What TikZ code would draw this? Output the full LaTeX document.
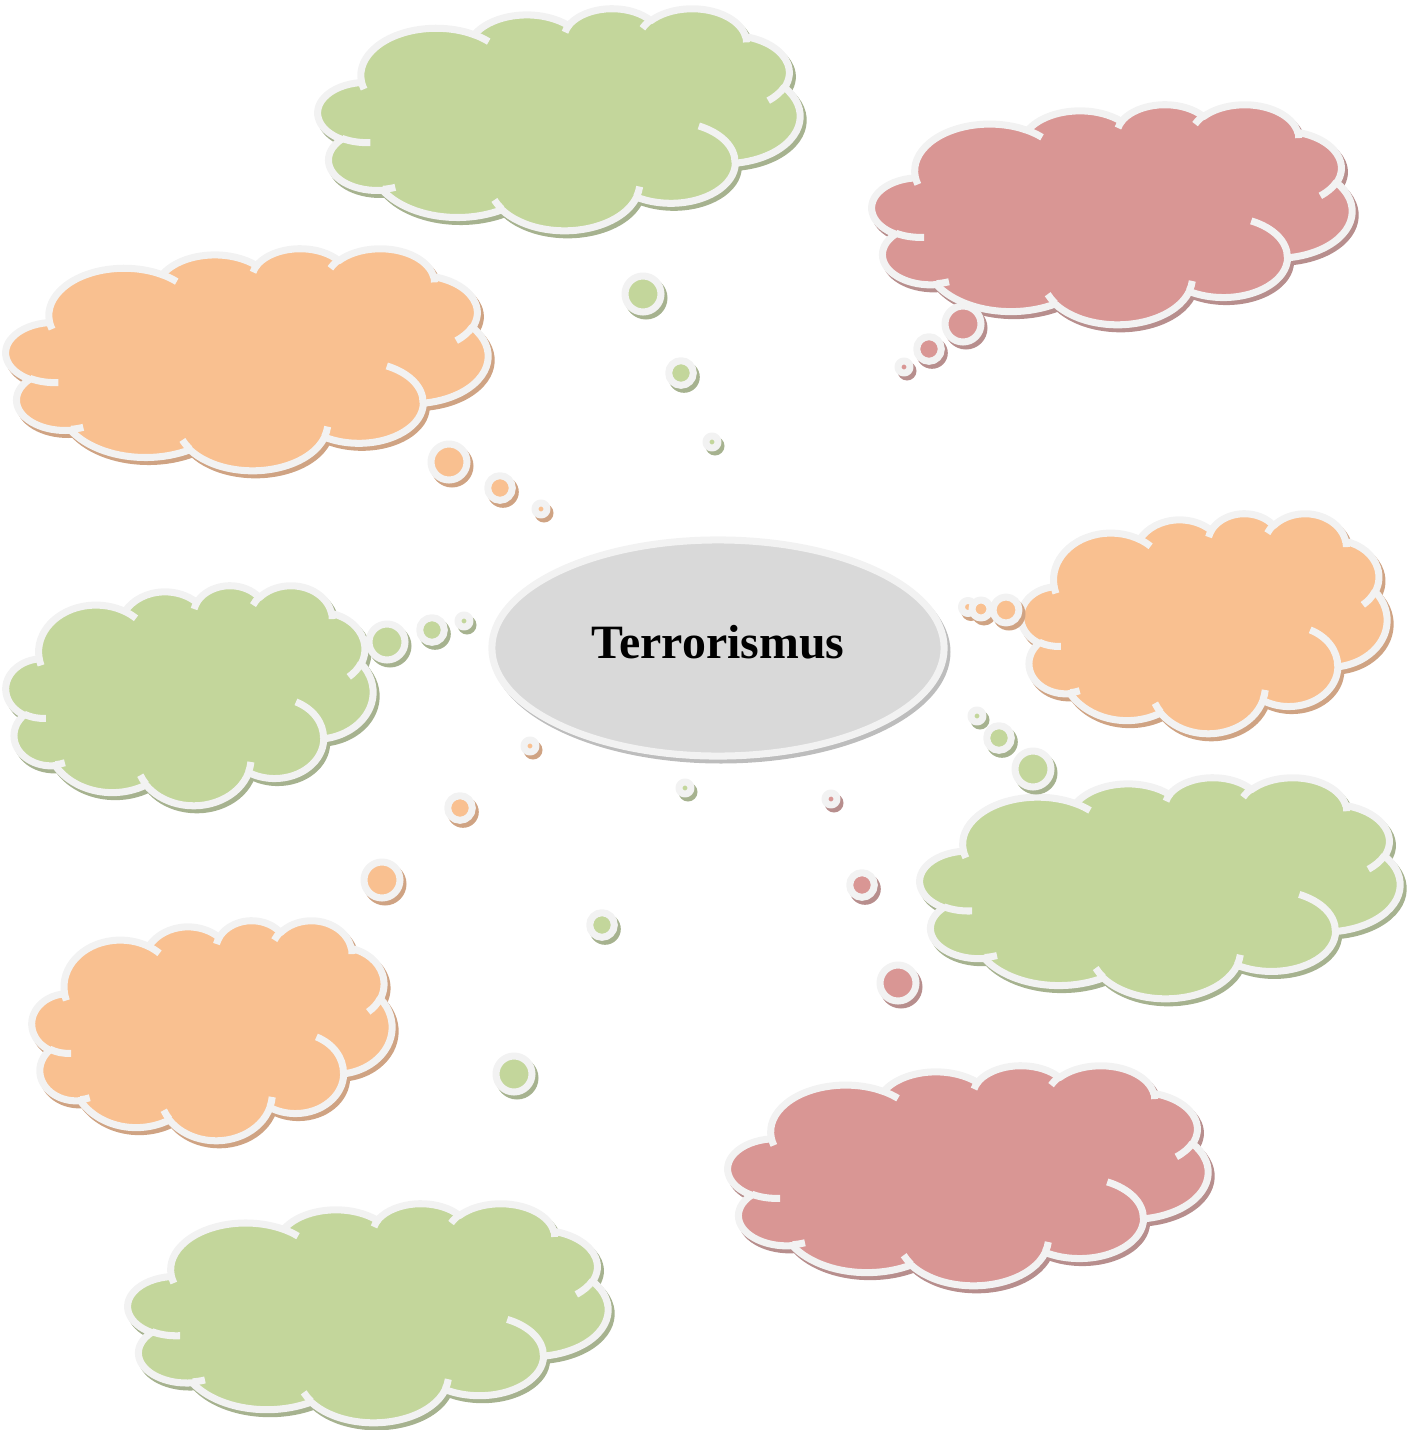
\documentclass[tikz,border=0pt]{standalone}
\usepackage{fontspec}
\setmainfont{Liberation Serif}
\usetikzlibrary{shapes.geometric}
\definecolor{leafgreen}{HTML}{C3D69B}
\definecolor{leafshade}{HTML}{A6B28F}
\definecolor{peach}{HTML}{F9C090}
\definecolor{peachshade}{HTML}{CFA383}
\definecolor{rose}{HTML}{D99694}
\definecolor{roseshade}{HTML}{B78E8D}
\definecolor{rimwhite}{HTML}{F2F2F2}
\definecolor{hubgrey}{HTML}{D9D9D9}
\definecolor{hubshade}{HTML}{BDBDBD}
\tikzset{
  declare function={vis(\x,\y,\z)=atan2(\y*sin(\x),\z*cos(\x));},
  rim/.style={draw=rimwhite, line width=2pt, line join=round},
  hub/.style={ellipse, rim, fill=hubgrey, minimum width=4.52cm, minimum height=2.16cm,
    inner sep=0pt, text height=0.33cm, text depth=0.13cm,
    font=\fontsize{13.6}{16}\selectfont\bfseries}
}
% one arc of the cloud outline: x radius, y radius, start, sweep
\newcommand\carc[4]{arc[x radius=#1, y radius=#2, start angle={vis(#3,#1,#2)},
  delta angle={mod(vis(#3+#4,#1,#2)-vis(#3,#1,#2)+720,360)}]}
\newcommand\cloudrim{(3.9,14.37)
  \carc{6.753}{9.19}{-190.4875}{123.7805}
  \carc{5.333}{7.267}{-144.1024}{89.9452}
  \carc{4.365}{5.945}{-145.8079}{99.7230}
  \carc{4.857}{6.595}{-130.9861}{117.2417}
  \carc{5.333}{7.273}{-78.7089}{109.0269}
  \carc{6.775}{9.22}{-46.2673}{130.269}
  \carc{5.785}{7.867}{0.6250}{114.0333}
  \carc{6.752}{9.215}{22.4516}{115.1726}
  \carc{7.72}{10.543}{66.2426}{75.7110}
  \carc{4.36}{5.918}{-274.9421}{146.7356}
  \carc{4.345}{5.945}{-246.8285}{152.5189} -- cycle}
\newcommand\cloudcurls{
  (4.693,26.177) \carc{4.345}{5.945}{86.742}{26.4295}
  (6.928,34.899) \carc{4.36}{5.918}{73.6105}{11.4475}
  (16.478,39.09) \carc{6.752}{9.215}{137.6242}{14.0811}
  (28.827,34.751) \carc{6.752}{9.215}{6.4533}{15.9984}
  (34.129,22.954) \carc{5.785}{7.867}{-70.2924}{70.9174}
  (41.798,15.354) \carc{5.333}{7.273}{30.318}{27.7515}
  (38.324,5.426) \carc{4.857}{6.595}{-13.7443}{14.8589}
  (29.078,3.952) \carc{4.857}{6.595}{-149.1815}{18.1954}
  (22.141,4.72) \carc{4.365}{5.945}{-163.4943}{17.6864}
  (14.0,5.192) \carc{6.753}{9.19}{-66.707}{12.3194}
  (4.127,15.789) \carc{6.753}{9.19}{157.6544}{11.8582}}
% cloud: left, top, width, height, fill, shade
\newcommand\thoughtcloud[6]{%
  \begin{scope}[shift={(#1+3,#2+4)}, xscale=#3/43.2, yscale=#4/43.2]
    \filldraw[draw=#6, fill=#6, line width=2pt, line join=round] \cloudrim;
  \end{scope}
  \begin{scope}[shift={(#1,#2)}, xscale=#3/43.2, yscale=#4/43.2]
    \filldraw[rim, fill=#5] \cloudrim;
    \draw[rim] \cloudcurls;
  \end{scope}}
% bubble: x, y, radius, fill, shade
\newcommand\bubble[5]{%
  \fill[#5] (#1+3,#2+4) circle[radius=#3+3.5];
  \filldraw[rim, fill=#4] (#1,#2) circle[radius=#3];}

\begin{document}
\begin{tikzpicture}[x=0.01cm, y=-0.01cm]
    \useasboundingbox (0,0) rectangle (1421,1430);
    \thoughtcloud{318}{8}{482}{222}{leafgreen}{leafshade}
    \thoughtcloud{872}{104}{480}{220}{rose}{roseshade}
    \thoughtcloud{6}{248}{482}{222}{peach}{peachshade}
    \thoughtcloud{1021}{513}{366}{220}{peach}{peachshade}
    \thoughtcloud{6}{585}{367}{220}{leafgreen}{leafshade}
    \thoughtcloud{920}{777}{480}{221}{leafgreen}{leafshade}
    \thoughtcloud{32}{920}{360}{220}{peach}{peachshade}
    \thoughtcloud{728}{1065}{480}{220}{rose}{roseshade}
    \thoughtcloud{128}{1203}{480}{219}{leafgreen}{leafshade}
    % centre
    \fill[hubshade] (721,652) ellipse[x radius=229.5, y radius=111.5];
    \node[hub] (terror) at (718,648) {Terrorismus};
    % bubbles
    \bubble{643}{294}{18}{leafgreen}{leafshade}
    \bubble{681}{373}{12.3}{leafgreen}{leafshade}
    \bubble{712}{442}{6}{leafgreen}{leafshade}
    \bubble{963}{324}{18}{rose}{roseshade}
    \bubble{929}{349}{12.3}{rose}{roseshade}
    \bubble{904}{367}{6}{rose}{roseshade}
    \bubble{449}{462}{18}{peach}{peachshade}
    \bubble{500}{488}{12.3}{peach}{peachshade}
    \bubble{541}{509}{6}{peach}{peachshade}
    \bubble{968}{607}{6.5}{peach}{peachshade}
    \bubble{981}{609}{9}{peach}{peachshade}
    \bubble{1006}{610}{13}{peach}{peachshade}
    \bubble{387}{642}{18}{leafgreen}{leafshade}
    \bubble{432}{630}{12.3}{leafgreen}{leafshade}
    \bubble{464}{621}{6}{leafgreen}{leafshade}
    \bubble{1033}{769}{18}{leafgreen}{leafshade}
    \bubble{999}{738}{12.3}{leafgreen}{leafshade}
    \bubble{977}{716}{6}{leafgreen}{leafshade}
    \bubble{382}{880}{18}{peach}{peachshade}
    \bubble{460}{808}{12.3}{peach}{peachshade}
    \bubble{530}{746}{6}{peach}{peachshade}
    \bubble{898}{983}{18}{rose}{roseshade}
    \bubble{862}{885}{12.3}{rose}{roseshade}
    \bubble{831}{799}{6}{rose}{roseshade}
    \bubble{514}{1074}{18}{leafgreen}{leafshade}
    \bubble{602}{925}{12.3}{leafgreen}{leafshade}
    \bubble{685}{788}{6}{leafgreen}{leafshade}
\end{tikzpicture}
\end{document}
